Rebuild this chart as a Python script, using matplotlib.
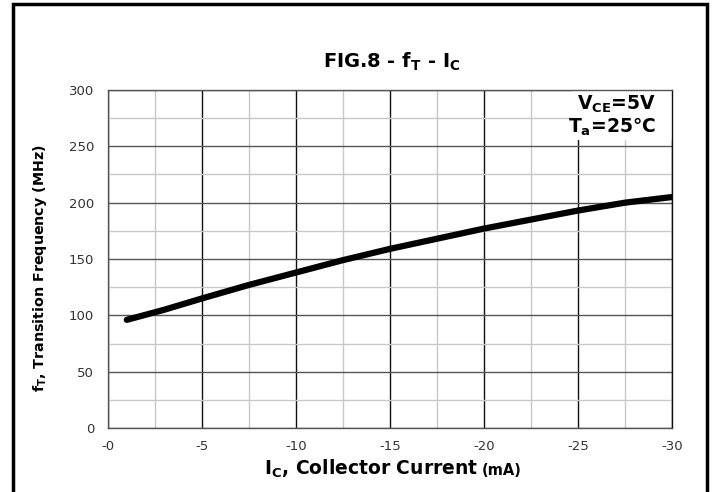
import matplotlib
matplotlib.use("Agg")
import matplotlib.pyplot as plt
from matplotlib.patches import Rectangle
from matplotlib.ticker import MultipleLocator

plt.rcParams['font.family'] = ['DejaVu Sans']
plt.rcParams['mathtext.fontset'] = 'custom'
plt.rcParams['mathtext.rm'] = 'DejaVu Sans'
plt.rcParams['mathtext.bf'] = 'DejaVu Sans:bold'

# Data
ic_ma = [-1, -3, -5, -7.5, -10, -12.5, -15, -17.5, -20, -22.5, -25, -27.5, -30]
ft_mhz = [96, 105, 115, 127, 138, 149, 159, 168, 177, 185, 193, 200, 205]
x_ticks = [0, -5, -10, -15, -20, -25, -30]
x_tick_labels = ['-0', '-5', '-10', '-15', '-20', '-25', '-30']
y_ticks = [0, 50, 100, 150, 200, 250, 300]

W, H = 716, 492
fig = plt.figure(figsize=(W / 100, H / 100), dpi=100)
ax = fig.add_axes([108 / W, (H - 428) / H, (672 - 108) / W, (428 - 90) / H])

def fx(px):
    return px / W

def fy(py):
    return (H - py) / H

ax.set_xlim(0, -30)
ax.set_ylim(0, 300)
ax.set_xticks(x_ticks)
ax.set_xticklabels(x_tick_labels)
ax.set_yticks(y_ticks)
ax.xaxis.set_minor_locator(MultipleLocator(2.5))
ax.yaxis.set_minor_locator(MultipleLocator(25))

ax.grid(which='minor', axis='both', color='#c8c8c8', linewidth=1.0)
ax.grid(which='major', axis='x', color='#101010', linewidth=1.0)
ax.grid(which='major', axis='y', color='#555555', linewidth=1.0)
ax.set_axisbelow(True)
ax.tick_params(which='both', length=0, labelsize=9.5, colors='#333333')
ax.tick_params(axis='x', pad=9)
ax.tick_params(axis='y', pad=10)
for s in ax.spines.values():
    s.set_color('#555555')
    s.set_linewidth(1.0)
ax.spines['right'].set_color('#101010')

ax.plot(ic_ma, ft_mhz, color='black', linewidth=4.5, solid_capstyle='round', zorder=3)

# white panel behind the condition note
ax.add_patch(Rectangle((0.823, 0.852), 0.177, 0.148, transform=ax.transAxes,
                       facecolor='white', edgecolor='none', zorder=2))
fig.text(fx(656), fy(110), r'V$_\mathbf{CE}$=5V', ha='right', va='baseline',
         fontsize=13.5, fontweight='bold', zorder=5)
fig.text(fx(656), fy(133), r'T$_\mathbf{a}$=25℃', ha='right', va='baseline',
         fontsize=13.5, fontweight='bold', zorder=5)

# axis labels
fig.text(fx(478), fy(475), r'I$_\mathbf{C}$, Collector Current', ha='right', va='baseline',
         fontsize=13.5, fontweight='bold')
fig.text(fx(482), fy(475), '(mA)', ha='left', va='baseline', fontsize=10.5, fontweight='bold')
fig.text(fx(40), fy(268), r'f$_\mathbf{T}$, Transition Frequency (MHz)', rotation=90,
         ha='center', va='center', fontsize=10.3, fontweight='bold')

# title
fig.text(fx(392), fy(68), r'FIG.8 - f$_\mathbf{T}$ - I$_\mathbf{C}$', ha='center', va='baseline',
         fontsize=14, fontweight='bold')

fig.patches.append(Rectangle((13 / W, -0.02), (707 - 13) / W, (H - 4) / H + 0.02,
                             transform=fig.transFigure, fill=False, edgecolor='black',
                             linewidth=2.5))

fig.savefig('out.png', dpi=100)
